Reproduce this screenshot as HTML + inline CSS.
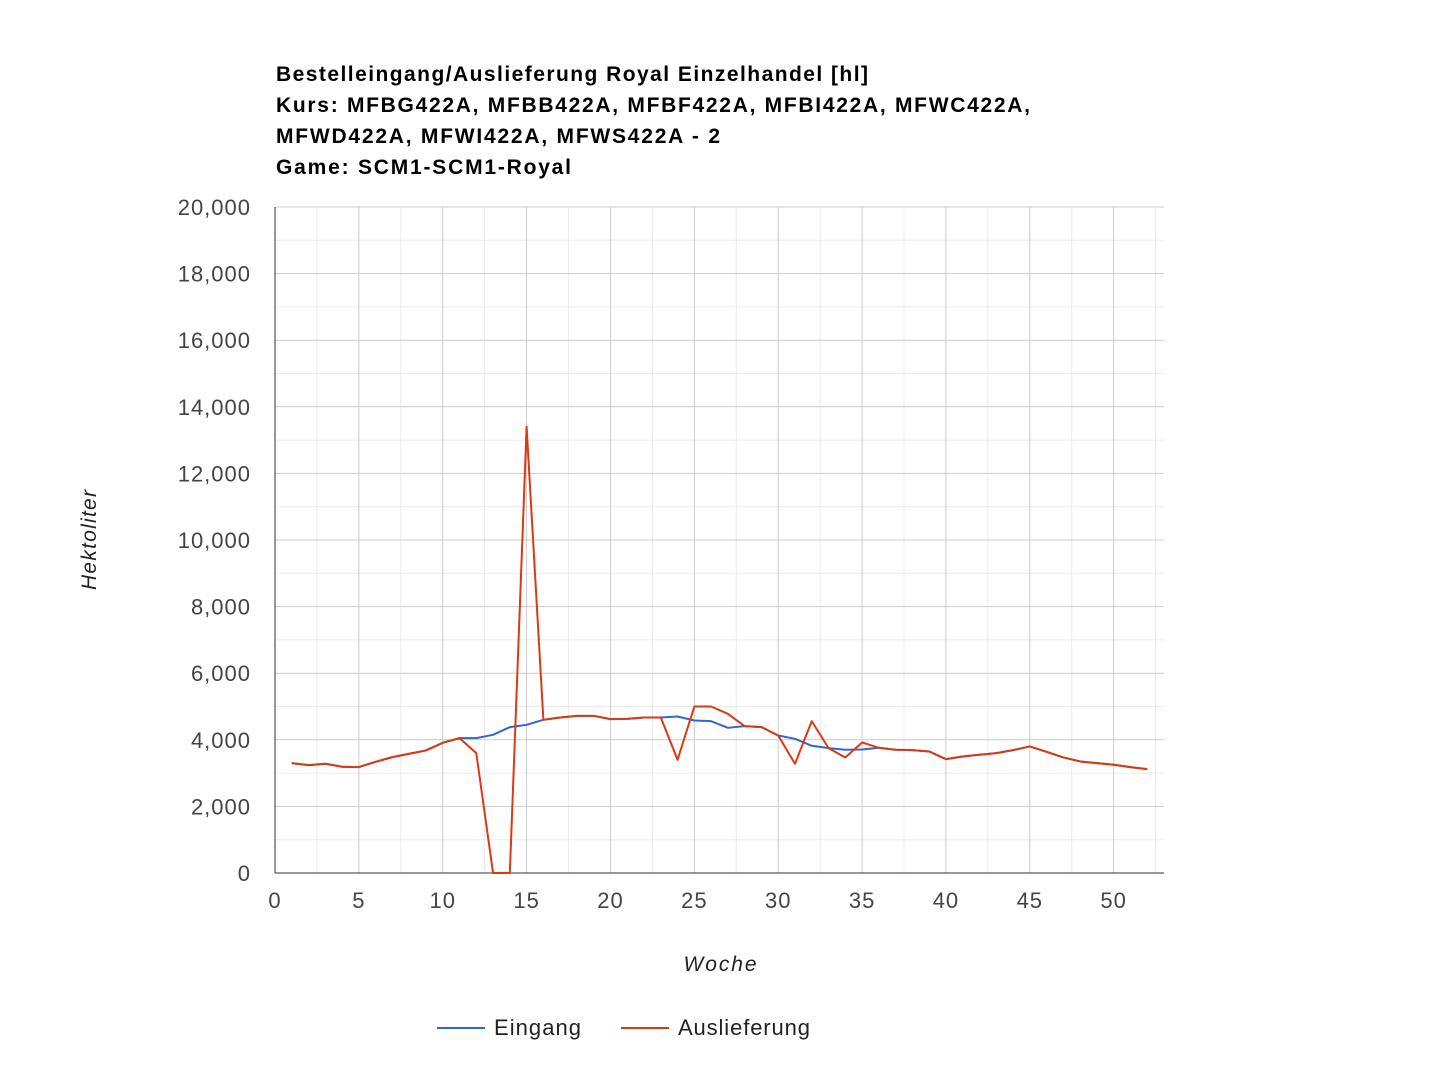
<!DOCTYPE html>
<html><head><meta charset="utf-8"><style>
body{margin:0;background:#fff;width:1440px;height:1080px;overflow:hidden;font-family:"Liberation Sans",Arial,sans-serif}
</style></head><body>
<svg id="chart" width="1440" height="1080" xmlns="http://www.w3.org/2000/svg" font-family="Liberation Sans, Arial, sans-serif">
<g font-weight="bold" font-size="21" fill="#000">
<text x="276" y="81" textLength="592" lengthAdjust="spacing">Bestelleingang/Auslieferung Royal Einzelhandel [hl]</text>
<text x="276" y="112" textLength="754" lengthAdjust="spacing">Kurs: MFBG422A, MFBB422A, MFBF422A, MFBI422A, MFWC422A,</text>
<text x="276" y="143" textLength="444" lengthAdjust="spacing">MFWD422A, MFWI422A, MFWS422A - 2</text>
<text x="276" y="174" textLength="295" lengthAdjust="spacing">Game: SCM1-SCM1-Royal</text>
</g>
<g id="grid"></g>
<g id="axes"></g>
<g id="series"></g>
<text x="0" y="0" transform="translate(96,540) rotate(-90)" text-anchor="middle" font-size="21" font-style="italic" fill="#222" textLength="100" lengthAdjust="spacing">Hektoliter</text>
<text x="720" y="971" text-anchor="middle" font-size="21" font-style="italic" fill="#222" textLength="73" lengthAdjust="spacing">Woche</text>
<g>
<g><line x1="437" y1="1028" x2="485" y2="1028" stroke="#3366cc" stroke-width="2"/><text x="494" y="1035" font-size="22" fill="#222" textLength="87" lengthAdjust="spacing">Eingang</text></g>
<g><line x1="621" y1="1028" x2="669" y2="1028" stroke="#dc3912" stroke-width="2"/><text x="678" y="1035" font-size="22" fill="#222" textLength="132" lengthAdjust="spacing">Auslieferung</text></g>
</g>
</svg>
<script>
const weeks=[];for(let i=1;i<=52;i++)weeks.push(i);
const eingang=[3300,3240,3280,3190,3180,3340,3480,3580,3680,3910,4050,4050,4150,4380,4450,4600,4670,4720,4720,4620,4630,4670,4670,4700,4580,4560,4360,4410,4380,4130,4030,3820,3750,3700,3710,3760,3700,3690,3650,3420,3500,3550,3600,3690,3800,3640,3470,3350,3300,3250,3180,3120];
const auslieferung=[3300,3240,3280,3190,3180,3340,3480,3580,3680,3910,4050,3600,0,0,13400,4600,4670,4720,4720,4620,4630,4670,4670,3400,5000,5000,4780,4410,4380,4130,3280,4560,3750,3470,3920,3760,3700,3690,3650,3420,3500,3550,3600,3690,3800,3640,3470,3350,3300,3250,3180,3120];
const yTicks=[0,2000,4000,6000,8000,10000,12000,14000,16000,18000,20000];
const xTicks=[0,5,10,15,20,25,30,35,40,45,50];
const X0=275,X1=1164,Y0=873,Y1=207,XMAX=53,YMAX=20000;
const sx=v=>X0+v/XMAX*(X1-X0), sy=v=>Y0-v/YMAX*(Y0-Y1);
const NS='http://www.w3.org/2000/svg';
function mk(t,a,p){const e=document.createElementNS(NS,t);for(const k in a)e.setAttribute(k,a[k]);p.appendChild(e);return e;}
const grid=document.getElementById('grid'),axes=document.getElementById('axes'),ser=document.getElementById('series');
for(let v=1000;v<=YMAX;v+=2000){const l=mk('line',{x1:X0,x2:X1,y1:sy(v),y2:sy(v),stroke:'#ebebeb'},grid);}
for(let v=2.5;v<XMAX;v+=5){const l=mk('line',{x1:sx(v),x2:sx(v),y1:Y1,y2:Y0,stroke:'#ebebeb'},grid);}
yTicks.forEach(v=>{const l=mk('line',{x1:X0,x2:X1,y1:sy(v),y2:sy(v),stroke:'#cccccc'},grid);
const t=mk('text',{x:251,y:sy(v)+8,'text-anchor':'end','font-size':22,'letter-spacing':1,fill:'#444'},axes);t.textContent=v.toLocaleString('en-US');});
xTicks.forEach(v=>{if(v>0){const l=mk('line',{x1:sx(v),x2:sx(v),y1:Y1,y2:Y0,stroke:'#cccccc'},grid);}
const t=mk('text',{x:sx(v),y:908,'text-anchor':'middle','font-size':22,'letter-spacing':1,fill:'#444'},axes);t.textContent=v;});
const ax=mk('line',{x1:X0,x2:X0,y1:Y1,y2:Y0,stroke:'#333','stroke-width':1},axes);
const bx=mk('line',{x1:X0,x2:X1,y1:Y0,y2:Y0,stroke:'#333','stroke-width':1},axes);
function line(vals,col,name){const p=mk('polyline',{points:vals.map((v,i)=>sx(weeks[i])+','+sy(v)).join(' '),fill:'none',stroke:col,'stroke-width':2,'stroke-linejoin':'round'},ser);}
line(eingang,'#3366cc','line-eingang');
line(auslieferung,'#dc3912','line-auslieferung');
</script>
</body></html>
